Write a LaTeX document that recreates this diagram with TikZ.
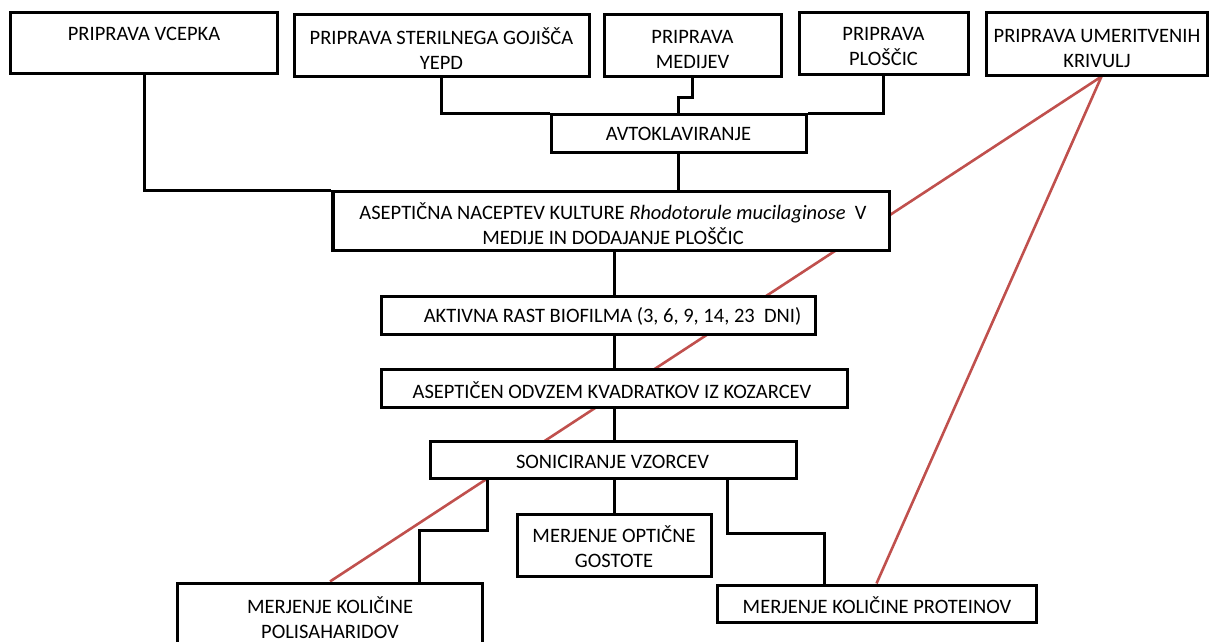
\documentclass[tikz,border=0pt]{standalone}
\usepackage{fontspec}
\setmainfont{Carlito}
\usetikzlibrary{backgrounds}
\begin{document}
\begin{tikzpicture}[x=1bp,y=-1bp,
  box/.style={draw=black, line width=3bp, fill=white, inner sep=0pt},
  lbl/.style={font=\fontsize{20.5bp}{25bp}\selectfont, align=center, inner sep=0pt, text=black},
  conn/.style={draw=black, line width=3bp, line join=miter},
  redline/.style={draw=redc, line width=2.6bp}]
\definecolor{redc}{RGB}{192,80,77}
\useasboundingbox (0,0) rectangle (1209,642);
\clip (0,0) rectangle (1209,642);
% boxes
\node[box, minimum width=266bp, minimum height=61bp] (v1) at (144,43.5) {};
\node[box, minimum width=295bp, minimum height=62bp] (ster) at (441.5,46) {};
\node[box, minimum width=177bp, minimum height=62bp] (med) at (692.5,46) {};
\node[box, minimum width=169bp, minimum height=62bp] (plo) at (883.5,44) {};
\node[box, minimum width=221bp, minimum height=63bp] (umer) at (1096.5,44.5) {};
\node[box, minimum width=255bp, minimum height=38bp] (avt) at (678.5,134) {};
\node[box, minimum width=556bp, minimum height=59bp] (asep) at (611,221.5) {};
\node[box, minimum width=434bp, minimum height=37bp] (akt) at (598,315.5) {};
\node[box, minimum width=466bp, minimum height=38bp] (odv) at (614,388) {};
\node[box, minimum width=366bp, minimum height=37bp] (son) at (613,459.5) {};
\node[box, minimum width=194bp, minimum height=62bp] (opt) at (614,545) {};
\node[box, minimum width=304bp, minimum height=70bp] (pol) at (330,618) {};
\node[box, minimum width=319bp, minimum height=37bp] (pro) at (876.5,603.5) {};
% labels
\node[lbl] (t1) at (144,34) {PRIPRAVA VCEPKA};
\node[lbl] (t2) at (441.5,49) {PRIPRAVA STERILNEGA GOJIŠČA\\YEPD};
\node[lbl] (t3) at (692.5,49) {PRIPRAVA\\MEDIJEV};
\node[lbl] (t4) at (883.5,46) {PRIPRAVA\\PLOŠČIC};
\node[lbl] (t5) at (1097,49) {PRIPRAVA UMERITVENIH\\KRIVULJ};
\node[lbl] (t6) at (678.5,134) {AVTOKLAVIRANJE};
\node[lbl] (t7) at (613,223.5) {ASEPTIČNA NACEPTEV KULTURE \textit{Rhodotorule mucilaginose}\ \ V\\MEDIJE IN DODAJANJE PLOŠČIC};
\node[lbl] (t8) at (612.5,316.5) {AKTIVNA RAST BIOFILMA (3, 6, 9, 14, 23\ \ DNI)};
\node[lbl] (t9) at (612,390) {ASEPTIČEN ODVZEM KVADRATKOV IZ KOZARCEV};
\node[lbl] (t10) at (612.5,461.5) {SONICIRANJE VZORCEV};
\node[lbl] (t11) at (614,546.5) {MERJENJE OPTIČNE\\GOSTOTE};
\node[lbl] (t12) at (330,617.5) {MERJENJE KOLIČINE\\POLISAHARIDOV};
\node[lbl] (t13) at (877,605.5) {MERJENJE KOLIČINE PROTEINOV};
% helper coordinates
\coordinate (sp) at (614,0);
\coordinate (pl1) at (487,530);
\coordinate (pl2) at (419,530);
\coordinate (pr1) at (727,533);
\coordinate (pr2) at (824,533);
\coordinate (rt) at (1101.5,76.5);
% red lines, behind the boxes
\begin{pgfonlayer}{background}
\draw[redline] (rt) -- (pol.north);
\draw[redline] (rt) -- (pro.north);
\end{pgfonlayer}
% connectors
\draw[conn] (v1.south) |- (asep.north west);
\draw[conn] (ster.south) |- (avt.north west);
\draw[conn] (plo.south) |- (avt.north east);
\draw[conn] (med.south) -- ++(0,19) -| (avt.north);
\draw[conn] (avt.south) -- (avt.south |- asep.north);
\draw[conn] (sp |- asep.south) -- (sp |- akt.north);
\draw[conn] (sp |- akt.south) -- (sp |- odv.north);
\draw[conn] (sp |- odv.south) -- (sp |- son.north);
\draw[conn] (sp |- son.south) -- (sp |- opt.north);
\draw[conn] (pl1 |- son.south) -- (pl1) -- (pl2) -- (pl2 |- pol.north);
\draw[conn] (pr1 |- son.south) -- (pr1) -- (pr2) -- (pr2 |- pro.north);
\end{tikzpicture}
\end{document}
